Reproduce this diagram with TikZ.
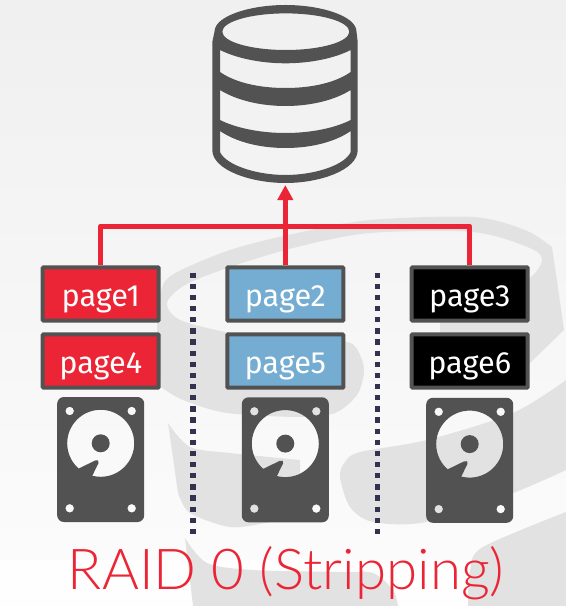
\documentclass[tikz,border=0pt]{standalone}
\usepackage{fontspec}
\setmainfont{Fira Sans}
\newfontfamily\titlefont{Lato Light}
\usetikzlibrary{arrows.meta}
\definecolor{dbred}{HTML}{EC2536}
\definecolor{dbblue}{HTML}{74ADD1}
\definecolor{dbgray}{HTML}{525252}
\definecolor{dbdot}{HTML}{33334F}
\definecolor{dbmark}{HTML}{E2E2E2}
\begin{document}
\begin{tikzpicture}[x=0.75pt,y=-0.75pt]
	\tikzset{pagebox/.style = {draw=dbgray,line width=3pt,rounded corners=0.6pt,minimum width=87pt,minimum height=40pt,inner sep=0pt,text=white,text height=19pt,text depth=0pt,font=\fontsize{23}{23}\selectfont}}
	\tikzset{wire/.style = {draw=dbred,line width=3.75pt,line join=round}}
	\tikzset{divider/.style = {draw=dbdot,line width=4pt,dash pattern=on 4pt off 4.36pt}}
	\tikzset{markshape/.style = {fill=dbmark}}
	% canvas
	\path[use as bounding box] (0,0) rectangle (566,606);
	\shade[top color=black!6,bottom color=black!1.5] (0,0) rectangle (566,560);
	\fill[black!0.5] (0,560) rectangle (566,606);
	% watermark
	\fill[markshape] plot[smooth] coordinates {(157,330) (160,295) (172,275) (230,250) (297,233) (370,220) (473,217) (525,230) (552,247)}
		-- plot[smooth] coordinates {(552,247) (559,295) (564,330)}
		-- (530,363) -- (440,335)
		-- plot[smooth] coordinates {(440,322) (490,304) (530,278) (542,260) (530,248) (473,232) (370,233) (297,247) (230,267) (185,285) (167,303) (180,320) (230,333) (290,342) (347,342) (360,355) (364,372) (357,395) (335,413) (300,417) (227,413) (183,400) (161,387)}
		-- cycle;
	\fill[markshape] plot[smooth] coordinates {(168,423) (190,447) (230,453) (300,460)}
		-- plot[smooth] coordinates {(300,515) (265,523) (230,527) (190,513) (178,493)} -- cycle;
	\fill[markshape] plot[smooth] coordinates {(185,538) (207,563) (253,570) (340,572) (373,573) (393,590) (398,606)} -- (193,606) -- cycle;
	\fill[markshape] plot[smooth] coordinates {(566,380) (513,413) (427,440) (360,452) (345,462) (340,477) (350,507) (373,522) (426,522) (513,493) (566,470)} -- cycle;
	\fill[markshape] plot[smooth] coordinates {(468,606) (470,570) (483,547) (566,512)} -- (566,606) -- cycle;
	% database
	\fill[dbgray,even odd rule] (214.5,31.7) .. controls (214.5,16) and (250,5) .. (285.5,5) .. controls (321,5) and (356.5,16) .. (356.5,31.7) -- (357.7,42) -- (357.7,150) .. controls (357.7,170) and (320,183) .. (285.5,183) .. controls (251,183) and (212.3,170) .. (212.3,150) -- (212.3,42) -- cycle
		(285.8,31.7) ellipse (63.5 and 18.3)
		(220,50) .. controls (236,58) and (260,63.3) .. (285.5,63.3) .. controls (311,63.3) and (335,58) .. (350.7,50) -- (350.7,72) .. controls (335,83) and (311,88) .. (285.5,88) .. controls (260,88) and (236,83) .. (220,72) -- cycle
		(220,90) .. controls (236,100) and (260,106) .. (285.5,106) .. controls (311,106) and (335,100) .. (350.7,90) -- (350.7,120) .. controls (335,128) and (311,133) .. (285.5,133) .. controls (260,133) and (236,128) .. (220,120) -- cycle
		(220,131) .. controls (236,142) and (260,148) .. (285.5,148) .. controls (311,148) and (335,142) .. (350.7,131) -- (350.7,152) .. controls (345,165) and (315,175) .. (285.5,175) .. controls (256,175) and (226,165) .. (220,152) -- cycle;
	\coordinate (dbbase) at (285.3,185);
	% dividers
	\coordinate (diva) at (193,272.5);
	\coordinate (divb) at (193,534.5);
	\coordinate (divc) at (377.7,272.5);
	\coordinate (divd) at (377.7,534.5);
	\draw[divider] (diva) -- (divb);
	\draw[divider] (divc) -- (divd);
	% pages
	\node[pagebox,fill=dbred] (page1) at (100.7,294) {page1};
	\node[pagebox,fill=dbred] (page4) at (100.7,361) {page4};
	\node[pagebox,fill=dbblue] (page2) at (285.3,294) {page2};
	\node[pagebox,fill=dbblue] (page5) at (285.3,361) {page5};
	\node[pagebox,fill=black] (page3) at (469.7,294) {page3};
	\node[pagebox,fill=black] (page6) at (469.7,361) {page6};
	% connectors
	\coordinate (bus) at (285.3,226);
	\draw[wire] (page1.north) |- (bus) -| (page3.north);
	\draw[wire,-{Triangle[length=11.25pt,width=11.25pt]}] (page2.north) -- (dbbase);
	% drives
	\foreach \dx/\dy in {100.7/0,285.3/0.3,469.7/0.8}{
		\begin{scope}[shift={(\dx,\dy)}]
			\fill[dbgray,even odd rule,rounded corners=5pt] (-43.5,397) rectangle (43.5,522)
				(-31,411) circle (4.3) (31,411) circle (4.3) (-31,508.3) circle (4.3) (31,508.3) circle (4.3)
				(0,443.3) circle (33.5) (0,443.3) circle (9);
			\fill[dbgray] (-24,469.5) -- (-5.5,460.5) .. controls (-3,459.5) and (-1.5,460.5) .. (-2.2,463) -- (-9.5,478) -- cycle;
		\end{scope}
	}
	% title
	\node[text=dbred,font=\titlefont\fontsize{42.3}{43}\selectfont,anchor=base] (title) at (286,589) {RAID 0 (Stripping)};
\end{tikzpicture}
\end{document}
